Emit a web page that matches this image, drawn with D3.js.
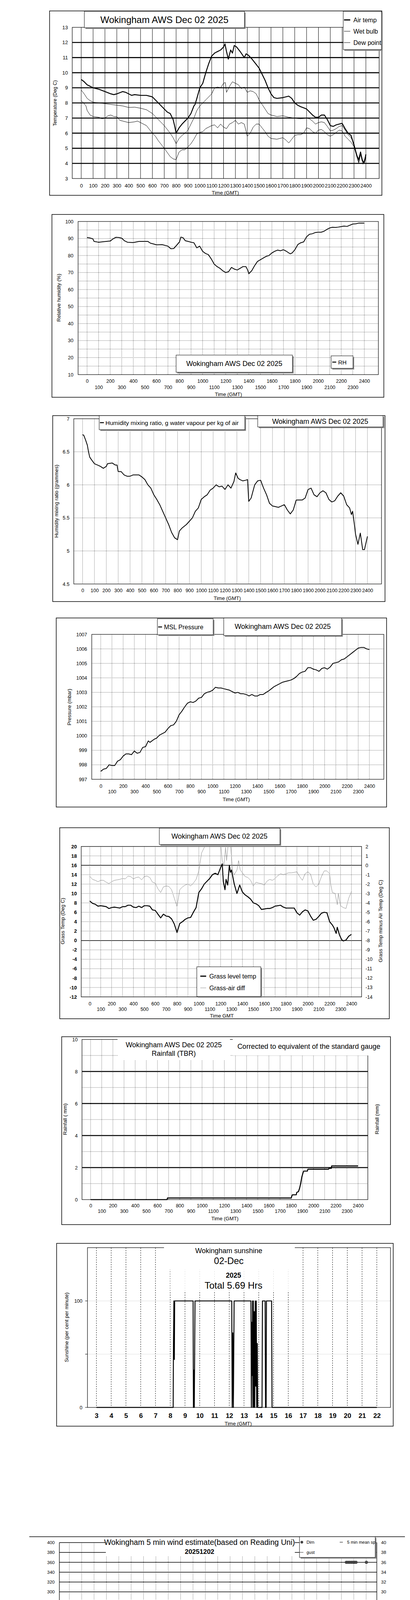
<!DOCTYPE html>
<html>
<head>
<meta charset="utf-8">
<title>Wokingham AWS Dec 02 2025</title>
<script src="https://cdn.jsdelivr.net/npm/d3@7"></script>
<style>
  body { margin: 0; background: #fff; }
  svg { display: block; }
  svg text { font-family: "Liberation Sans", Arial, sans-serif; fill: #000; }
</style>
</head>
<body>
<svg id="page" width="1050" height="5085"></svg>
<script>
// ---------- tick labels ----------
var timeTicks = [0,100,200,300,400,500,600,700,800,900,1000,1100,1200,1300,1400,1500,1600,1700,1800,1900,2000,2100,2200,2300,2400];
var evenTicks = [0,200,400,600,800,1000,1200,1400,1600,1800,2000,2200,2400];
var oddTicks = [100,300,500,700,900,1100,1300,1500,1700,1900,2100,2300];
var tempTicks = [3,4,5,6,7,8,9,10,11,12,13];
var rhTicks = [10,20,30,40,50,60,70,80,90,100];
var mixTicks = [4.5,5,5.5,6,6.5,7];
var presTicks = [997,998,999,1000,1001,1002,1003,1004,1005,1006,1007];
var grassTicks = [-12,-10,-8,-6,-4,-2,0,2,4,6,8,10,12,14,16,18,20];
var diffTicks = [-14,-13,-12,-11,-10,-9,-8,-7,-6,-5,-4,-3,-2,-1,0,1,2];
var rainTicks = [0,2,4,6,8,10];
var sunHours = [3,4,5,6,7,8,9,10,11,12,13,14,15,16,17,18,19,20,21,22];
var degTicks = [0,20,40,60,80,100,120,140,160,180,200,220,240,260,280,300,320,340,360,380,400];
var knotTicks = [0,2,4,6,8,10,12,14,16,18,20,22,24,26,28,30,32,34,36,38,40];

// ---------- series: [time GMT (hhmm scale), value] ----------
var airTemp = [[0,9.55],[25,9.4],[50,9.2],[75,9.1],[100,9.0],[150,8.9],[200,8.75],[250,8.6],[275,8.55],[300,8.6],[350,8.75],[375,8.7],[400,8.6],[425,8.5],[450,8.55],[500,8.5],[550,8.5],[600,8.4],[625,8.2],[650,8.0],[700,7.6],[725,7.4],[750,7.3],[775,6.9],[790,6.4],[800,6.0],[825,6.35],[850,6.6],[875,6.8],[900,7.0],[925,7.3],[950,7.8],[960,7.9],[975,8.3],[1000,9.0],[1025,9.3],[1050,10.0],[1075,10.6],[1100,11.1],[1125,11.3],[1150,11.4],[1175,11.5],[1200,11.7],[1212,11.9],[1225,11.4],[1240,10.9],[1260,11.5],[1275,11.3],[1290,11.8],[1310,11.7],[1340,11.4],[1375,11.0],[1390,11.25],[1410,11.15],[1440,10.9],[1475,10.55],[1500,10.3],[1525,9.9],[1550,9.5],[1575,9.0],[1600,8.6],[1625,8.35],[1650,8.3],[1700,8.35],[1750,8.45],[1775,8.3],[1800,8.0],[1825,7.85],[1850,7.75],[1900,7.6],[1925,7.4],[1950,7.2],[1975,7.05],[2000,7.05],[2025,7.2],[2050,7.2],[2075,6.9],[2100,6.5],[2125,6.45],[2150,6.55],[2175,6.6],[2200,6.65],[2225,6.3],[2250,6.0],[2275,5.85],[2300,5.2],[2325,4.5],[2340,4.25],[2355,4.75],[2370,4.2],[2385,4.05],[2393,4.3],[2400,4.6]];
var wetBulb = [[0,8.85],[25,8.6],[50,8.3],[75,8.15],[100,8.05],[150,8.0],[200,7.95],[250,7.9],[300,7.85],[350,7.8],[400,7.7],[450,7.72],[500,7.65],[550,7.55],[600,7.3],[650,6.9],[700,6.5],[750,6.0],[775,5.7],[800,5.3],[825,5.65],[850,5.85],[875,6.0],[900,6.2],[925,6.6],[950,7.0],[975,7.5],[1000,7.8],[1050,8.2],[1100,8.6],[1125,9.0],[1150,9.05],[1175,9.0],[1200,9.3],[1215,9.35],[1225,8.7],[1250,9.1],[1275,9.4],[1300,9.3],[1325,9.2],[1350,8.95],[1375,9.05],[1400,8.7],[1425,8.8],[1450,8.75],[1475,8.6],[1500,8.2],[1525,7.9],[1550,7.6],[1575,7.3],[1600,7.2],[1650,7.1],[1700,7.15],[1750,7.05],[1800,7.0],[1850,6.95],[1900,7.0],[1925,6.95],[1950,6.8],[1975,6.6],[2000,6.7],[2025,6.75],[2050,6.7],[2075,6.45],[2100,6.15],[2125,6.2],[2150,6.3],[2175,6.45],[2200,6.5],[2225,6.2],[2250,5.9],[2275,5.7],[2300,5.3],[2325,4.5],[2340,4.1],[2355,4.7],[2380,4.0],[2400,4.6]];
var dewPoint = [[0,8.15],[20,8.0],[40,7.8],[50,7.5],[75,7.2],[100,7.1],[150,7.05],[175,6.95],[200,7.0],[225,7.15],[250,7.2],[275,7.1],[300,7.1],[325,6.85],[350,6.8],[400,6.7],[450,6.75],[475,6.8],[500,6.7],[550,6.5],[600,6.0],[625,5.8],[650,5.5],[700,5.0],[750,4.45],[775,4.3],[800,4.25],[825,4.75],[850,4.9],[875,4.9],[900,5.1],[925,5.3],[950,5.6],[975,5.95],[1000,6.05],[1025,6.1],[1050,6.3],[1075,6.4],[1100,6.5],[1125,6.55],[1150,6.35],[1175,6.6],[1200,6.4],[1225,6.3],[1250,6.6],[1275,6.7],[1300,6.85],[1325,6.6],[1350,6.7],[1375,6.6],[1400,5.8],[1425,6.0],[1450,6.4],[1475,6.6],[1500,6.6],[1525,6.35],[1550,6.1],[1575,5.8],[1600,5.65],[1650,5.6],[1700,5.7],[1725,5.55],[1750,5.35],[1775,5.6],[1800,5.85],[1825,5.9],[1850,5.9],[1875,6.0],[1900,6.35],[1925,6.3],[1950,6.1],[1975,6.0],[2000,6.2],[2025,6.25],[2050,6.1],[2075,5.9],[2100,5.8],[2125,5.9],[2150,6.05],[2175,6.2],[2200,6.15],[2225,5.8],[2250,5.6],[2275,5.4],[2300,5.1],[2325,4.4],[2340,4.0],[2355,4.6],[2375,3.95],[2390,4.1],[2400,4.4]];
var relHum = [[0,90.6],[25,90.3],[50,89.8],[60,88.3],[100,87.8],[150,88.2],[200,88.5],[225,89.8],[250,90.7],[275,90.6],[300,90.2],[325,88.6],[350,87.8],[400,87.6],[450,88.3],[500,88.3],[525,88.3],[550,87.2],[575,86.8],[600,86.3],[650,86.4],[700,85.5],[725,84.0],[750,84.1],[775,86.0],[800,88.0],[812,90.8],[830,90.5],[850,88.7],[875,88.3],[900,87.8],[925,87.5],[950,84.5],[975,85.5],[1000,82.5],[1025,81.2],[1050,80.5],[1075,78.0],[1100,75.0],[1125,73.5],[1150,72.5],[1175,71.0],[1200,70.0],[1225,70.5],[1250,73.0],[1275,72.0],[1300,71.5],[1325,72.5],[1350,73.5],[1375,73.5],[1390,71.5],[1400,69.3],[1425,71.0],[1450,74.0],[1475,76.5],[1500,77.5],[1525,78.5],[1550,79.5],[1575,80.0],[1600,81.5],[1625,82.5],[1650,83.2],[1675,82.8],[1700,83.4],[1725,82.5],[1758,81.0],[1775,81.5],[1800,83.5],[1825,86.5],[1850,87.5],[1875,88.0],[1900,91.0],[1925,92.5],[1950,92.8],[1975,93.5],[2000,93.7],[2025,93.7],[2050,94.2],[2075,95.3],[2100,96.2],[2125,96.6],[2150,96.5],[2175,96.7],[2200,97.0],[2225,97.3],[2250,97.1],[2275,97.8],[2300,98.5],[2325,98.6],[2350,99.0],[2400,99.0]];
var mixRatio = [[0,6.76],[10,6.75],[25,6.68],[40,6.6],[50,6.5],[60,6.42],[75,6.38],[100,6.32],[125,6.3],[150,6.28],[175,6.25],[200,6.28],[210,6.32],[250,6.33],[275,6.3],[290,6.3],[300,6.2],[325,6.2],[350,6.15],[375,6.13],[400,6.13],[425,6.15],[450,6.15],[475,6.15],[500,6.12],[525,6.08],[550,6.0],[575,5.95],[600,5.85],[625,5.78],[650,5.7],[675,5.6],[700,5.5],[725,5.4],[750,5.28],[775,5.2],[800,5.17],[815,5.3],[840,5.35],[875,5.4],[900,5.45],[925,5.5],[950,5.6],[975,5.65],[1000,5.78],[1025,5.82],[1050,5.85],[1075,5.92],[1100,5.95],[1125,6.0],[1150,5.97],[1175,5.98],[1200,5.93],[1225,6.0],[1250,5.95],[1275,6.05],[1290,6.18],[1310,6.1],[1325,6.08],[1350,6.06],[1375,6.07],[1390,6.08],[1400,5.75],[1420,5.8],[1450,6.0],[1475,6.06],[1500,6.07],[1525,5.95],[1550,5.85],[1575,5.72],[1600,5.68],[1650,5.66],[1675,5.68],[1700,5.7],[1725,5.62],[1750,5.56],[1775,5.62],[1800,5.77],[1825,5.77],[1850,5.77],[1875,5.8],[1900,5.93],[1925,5.95],[1950,5.85],[1975,5.82],[2000,5.88],[2025,5.91],[2050,5.88],[2075,5.78],[2100,5.74],[2125,5.76],[2150,5.83],[2175,5.88],[2200,5.83],[2225,5.7],[2250,5.65],[2265,5.55],[2275,5.6],[2290,5.4],[2300,5.25],[2320,5.1],[2340,5.27],[2360,5.02],[2375,5.02],[2385,5.1],[2400,5.22]];
var mslPressure = [[0,997.55],[25,997.7],[50,997.75],[75,998.0],[100,997.95],[125,997.95],[150,998.25],[175,998.35],[200,998.6],[225,998.75],[250,998.75],[275,998.7],[300,998.95],[325,998.8],[350,998.85],[375,999.2],[400,999.25],[425,999.65],[440,999.55],[475,999.75],[500,999.85],[525,1000.05],[550,1000.15],[575,1000.25],[600,1000.5],[625,1000.7],[650,1000.75],[675,1001.0],[700,1001.45],[725,1001.7],[750,1002.0],[775,1002.25],[800,1002.35],[825,1002.3],[850,1002.4],[875,1002.6],[900,1002.65],[925,1002.9],[950,1003.0],[975,1003.05],[1000,1003.15],[1025,1003.35],[1050,1003.3],[1075,1003.3],[1100,1003.25],[1125,1003.2],[1150,1003.15],[1175,1003.05],[1200,1002.95],[1225,1003.0],[1250,1002.9],[1275,1002.9],[1300,1002.85],[1325,1002.75],[1350,1002.85],[1375,1002.75],[1400,1002.75],[1425,1002.85],[1450,1002.85],[1475,1002.98],[1500,1003.1],[1525,1003.25],[1550,1003.4],[1575,1003.5],[1600,1003.6],[1625,1003.7],[1650,1003.75],[1675,1003.8],[1700,1003.85],[1725,1003.95],[1750,1004.1],[1775,1004.3],[1800,1004.4],[1825,1004.45],[1850,1004.7],[1875,1004.7],[1900,1004.6],[1925,1004.55],[1950,1004.45],[1975,1004.65],[2000,1004.7],[2025,1004.6],[2050,1004.75],[2075,1005.0],[2100,1005.05],[2125,1005.1],[2150,1005.25],[2175,1005.3],[2200,1005.45],[2225,1005.6],[2250,1005.75],[2275,1005.9],[2300,1006.05],[2325,1006.1],[2350,1006.1],[2375,1006.0],[2400,1005.95]];
var grassTemp = [[0,8.4],[25,7.9],[50,7.7],[75,7.3],[100,7.4],[125,7.3],[150,7.2],[175,6.8],[200,7.0],[225,7.1],[250,7.0],[275,6.9],[300,7.2],[325,7.2],[350,7.5],[375,7.5],[400,7.1],[425,7.0],[450,7.3],[475,7.0],[500,7.4],[525,7.4],[550,7.3],[575,6.5],[600,6.4],[625,5.6],[650,4.8],[675,5.6],[700,5.2],[725,5.1],[750,4.6],[775,3.5],[800,1.7],[825,3.6],[850,4.0],[875,4.5],[900,4.8],[925,4.9],[950,6.0],[975,7.0],[1000,10.2],[1025,11.0],[1050,12.0],[1075,12.6],[1100,13.2],[1125,14.0],[1150,14.3],[1175,14.0],[1200,15.5],[1215,16.3],[1225,12.5],[1240,10.8],[1250,13.0],[1265,11.8],[1280,16.0],[1290,14.5],[1300,15.0],[1325,12.0],[1350,10.0],[1375,11.8],[1400,10.3],[1425,9.7],[1450,9.3],[1475,8.8],[1500,8.0],[1525,7.8],[1550,7.4],[1575,6.6],[1600,6.7],[1625,6.8],[1650,6.8],[1675,7.0],[1700,7.3],[1725,7.4],[1750,7.5],[1775,7.1],[1800,6.9],[1850,6.9],[1875,6.9],[1900,5.9],[1925,5.4],[1950,6.1],[1975,6.5],[2000,6.3],[2025,5.2],[2050,4.3],[2075,4.5],[2100,5.1],[2125,5.8],[2150,6.0],[2175,5.9],[2200,4.0],[2225,3.3],[2240,2.7],[2260,1.5],[2270,2.8],[2290,1.2],[2310,0.2],[2325,-0.1],[2350,0.1],[2375,0.9],[2400,1.3]];
var grassAirDiff = [[0,-1.18],[25,-1.5],[50,-1.6],[75,-1.75],[100,-1.6],[125,-1.6],[150,-1.8],[175,-1.95],[200,-1.75],[225,-1.6],[250,-1.55],[275,-1.5],[300,-1.4],[325,-1.45],[350,-1.15],[375,-1.2],[400,-1.45],[425,-1.3],[450,-1.25],[475,-1.55],[500,-1.2],[525,-1.15],[550,-1.3],[575,-1.8],[600,-1.9],[625,-2.5],[650,-2.9],[675,-2.3],[700,-2.2],[725,-2.25],[750,-2.6],[775,-3.5],[800,-4.4],[825,-2.6],[850,-2.3],[875,-2.1],[900,-2.0],[925,-2.2],[950,-1.9],[975,-1.5],[1000,-0.6],[1025,1.3],[1050,1.9],[1075,2.2],[1100,2.3],[1150,2.3],[1175,2.05],[1200,2.3],[1215,0.5],[1230,-0.1],[1245,1.9],[1255,0.5],[1270,2.3],[1290,2.3],[1310,-0.6],[1325,-1.0],[1350,-0.5],[1365,0.5],[1380,-0.5],[1400,-0.8],[1425,-1.2],[1450,-1.3],[1475,-1.6],[1500,-2.2],[1525,-1.8],[1550,-1.9],[1575,-1.95],[1600,-2.1],[1625,-1.7],[1650,-1.5],[1675,-1.6],[1700,-1.4],[1725,-1.1],[1750,-0.9],[1775,-1.0],[1800,-0.9],[1825,-0.8],[1850,-0.8],[1875,-0.75],[1900,-0.7],[1925,-1.2],[1950,-1.6],[1975,-0.9],[2000,-0.7],[2025,-0.95],[2050,-2.0],[2075,-2.3],[2100,-2.0],[2125,-1.2],[2150,-0.6],[2175,-0.6],[2200,-0.9],[2210,-2.0],[2225,-2.9],[2250,-3.0],[2270,-4.2],[2280,-3.0],[2300,-4.3],[2325,-4.5],[2350,-4.6],[2375,-3.5],[2400,-2.8]];
var rainTotal = [[0,0],[686,0],[690,0.1],[1800,0.1],[1810,0.3],[1845,0.3],[1850,0.45],[1865,0.5],[1875,0.7],[1885,1.0],[1895,1.4],[1905,1.65],[1912,1.78],[1945,1.78],[1950,1.9],[2135,1.9],[2140,1.95],[2160,1.95],[2163,2.1],[2400,2.1]];
// sunshine: [hour GMT, per cent]
var sunshine = [[3,0],[8.2,0],[8.22,60],[8.25,100],[8.28,45],[8.3,100],[9.55,100],[9.57,0],[9.6,35],[9.63,0],[9.68,100],[12.17,100],[12.2,0],[12.24,70],[12.28,0],[12.33,100],[13.47,100],[13.5,0],[13.52,80],[13.55,30],[13.58,100],[13.6,0],[13.63,100],[13.67,0],[13.7,90],[13.73,0],[13.76,100],[13.8,20],[13.83,100],[13.86,0],[13.9,60],[13.93,0],[14.22,0],[14.25,100],[14.43,100],[14.46,0],[14.5,0],[14.52,100],[14.87,100],[14.9,0],[22,0]];
var windDir = [[6,204],[21,209],[39,212],[53,216],[71,212],[81,209],[103,213],[120,215],[128,218],[141,213],[156,226],[171,223],[184,225],[199,213],[210,210],[220,205],[231,197],[242,194],[252,202],[263,210],[274,213],[289,212],[302,202],[312,197],[323,194],[338,199],[351,204],[359,200],[372,195],[387,192],[398,189],[409,192],[424,194],[434,186],[445,180],[455,189],[468,199],[481,218],[494,212],[509,207],[524,202],[537,199],[548,194],[562,199],[573,194],[588,202],[601,200],[616,204],[629,204],[644,197],[654,192],[665,189],[680,189],[695,189],[708,182],[723,177],[738,169],[748,150],[759,145],[770,150],[781,160],[791,150],[804,145],[815,148],[826,161],[836,171],[845,183],[856,189],[868,184],[883,189],[898,191],[911,192],[928,191],[943,197],[958,200],[971,197],[984,201],[997,204],[1010,197],[1022,187],[1037,185],[1050,174],[1065,177],[1080,178],[1093,180],[1106,179],[1119,181],[1134,179],[1146,181],[1157,179],[1172,179],[1194,184],[1206,181],[1221,181],[1236,181],[1253,183],[1264,172],[1273,166],[1283,173],[1300,169],[1311,179],[1326,179],[1339,183],[1350,190],[1360,179],[1371,171],[1380,165],[1388,153],[1397,160],[1403,165],[1412,187],[1422,198],[1431,193],[1440,183],[1450,181],[1461,177],[1472,165],[1482,168],[1493,174],[1506,179],[1519,174],[1532,172],[1547,176],[1559,176],[1568,179],[1579,168],[1589,158],[1600,165],[1611,163],[1621,156],[1632,149],[1643,154],[1653,151],[1664,147],[1675,153],[1686,145],[1696,150],[1707,155],[1718,153],[1729,160],[1739,163],[1750,148],[1763,160],[1771,165],[1782,174],[1793,171],[1799,153],[1810,150],[1820,151],[1831,161],[1846,171],[1857,174],[1868,168],[1879,160],[1889,166],[1899,173],[1910,173],[1921,169],[1932,161],[1942,167],[1953,173],[1966,168],[1974,147],[1985,153],[1996,156],[2006,142],[2013,148],[2024,161],[2034,166],[2045,160],[2053,165],[2066,168],[2077,171],[2086,181],[2096,186],[2107,177],[2117,167],[2128,171],[2139,152],[2150,137],[2158,148],[2169,154],[2178,138],[2188,133],[2195,120],[2199,125],[2212,140],[2220,148],[2229,134],[2240,360],[2253,360],[2266,360],[2280,360],[2293,360],[2306,360],[2318,360],[2327,148],[2340,148],[2353,137],[2361,125],[2372,125],[2383,134],[2389,125],[2396,118],[2402,360]];
var windGust = [[0,11.2],[17,11.5],[32,12.4],[49,9.7],[60,11.7],[71,10.8],[81,9.7],[92,10.4],[103,9.1],[113,10.7],[124,8.3],[135,7.8],[145,7.6],[156,8.6],[167,6.4],[178,8.0],[188,9.9],[199,10.7],[210,10.9],[220,7.5],[231,7.0],[242,5.9],[252,6.7],[263,7.0],[274,6.6],[284,7.2],[295,7.1],[306,7.5],[317,6.7],[327,5.6],[338,7.0],[349,6.2],[359,7.4],[370,8.4],[381,6.2],[391,5.4],[402,6.7],[413,5.8],[424,5.4],[434,4.7],[445,5.9],[456,5.4],[466,6.2],[477,10.4],[488,8.8],[498,9.5],[509,7.0],[520,7.9],[530,8.0],[541,8.2],[552,8.3],[563,7.8],[573,7.1],[584,7.4],[595,8.8],[605,7.5],[616,7.6],[627,7.0],[637,6.8],[648,6.2],[659,5.6],[670,4.8],[680,6.7],[691,7.0],[702,6.4],[712,6.6],[723,4.3],[734,4.8],[744,4.1],[755,3.5],[766,3.0],[777,3.4],[787,3.4],[798,3.4],[809,4.6],[820,5.4],[830,4.3],[841,3.0],[852,3.1],[862,3.5],[873,4.1],[884,5.1],[894,6.4],[905,7.4],[916,7.4],[927,7.2],[937,7.0],[948,7.1],[959,6.7],[969,7.2],[980,7.1],[991,8.8],[1001,5.9],[1012,6.2],[1022,6.6],[1033,7.2],[1044,8.0],[1055,8.8],[1065,8.0],[1076,9.4],[1087,8.8],[1097,7.8],[1108,8.3],[1119,8.8],[1130,5.9],[1140,8.3],[1151,8.8],[1162,7.8],[1172,5.6],[1183,7.0],[1194,8.0],[1204,7.6],[1215,7.5],[1226,6.6],[1237,7.1],[1247,7.2],[1258,6.7],[1268,6.4],[1279,5.9],[1290,4.3],[1301,5.4],[1311,7.0],[1322,8.8],[1333,11.4],[1343,9.1],[1354,7.0],[1365,6.7],[1375,5.4],[1386,5.9],[1397,5.6],[1408,7.0],[1418,8.3],[1429,8.0],[1440,10.1],[1448,12.4],[1455,8.5],[1461,7.8],[1472,6.2],[1482,7.5],[1493,7.6],[1504,9.0],[1515,8.3],[1525,9.1],[1536,9.1],[1547,8.3],[1557,9.0],[1568,8.2],[1579,8.4],[1589,8.3],[1600,7.8],[1611,9.1],[1621,7.0],[1632,8.6],[1643,6.2],[1653,5.4],[1664,9.7],[1675,5.4],[1686,6.6],[1696,8.0],[1707,6.7],[1717,8.8],[1728,9.7],[1739,7.8],[1750,8.3],[1760,7.0],[1771,8.0],[1782,7.5],[1792,8.8],[1803,7.0],[1814,7.0],[1825,8.6],[1835,7.8],[1846,8.8],[1857,7.5],[1867,8.0],[1878,7.0],[1889,7.0],[1899,6.7],[1910,5.6],[1921,4.3],[1931,4.5],[1942,5.4],[1953,4.3],[1964,4.2],[1974,4.2],[1985,3.5],[1996,3.1],[2006,4.3],[2017,5.1],[2028,5.6],[2038,6.4],[2049,6.2],[2060,6.7],[2070,6.2],[2081,6.7],[2092,5.9],[2102,6.4],[2113,5.1],[2124,3.8],[2135,2.7],[2145,2.1],[2156,3.1],[2167,3.0],[2178,2.7],[2188,1.7],[2199,4.8],[2210,3.3],[2220,1.7],[2231,0.9],[2242,1.3],[2252,0.6],[2263,0.1],[2274,1.3],[2285,0.1],[2295,0.2],[2306,0.5],[2316,0.1],[2327,2.3],[2338,2.2],[2349,3.8],[2359,4.3],[2370,5.2],[2381,4.1],[2391,3.0],[2400,2.5]];
var windMean = [[0,6.2],[17,7.2],[32,8.2],[49,7.4],[60,6.1],[71,6.6],[81,7.0],[92,6.7],[103,6.3],[113,5.6],[124,5.6],[135,5.2],[145,4.8],[156,4.7],[167,4.7],[178,4.3],[188,5.6],[199,5.9],[210,6.2],[220,5.2],[231,4.6],[242,4.3],[252,4.3],[263,4.1],[274,4.1],[284,4.7],[295,5.1],[306,4.8],[317,4.3],[327,3.5],[338,3.6],[349,4.3],[359,5.2],[370,4.7],[381,4.1],[391,3.8],[402,3.9],[413,4.2],[424,4.3],[434,4.6],[445,4.3],[456,4.1],[466,3.8],[477,5.1],[488,5.8],[498,5.9],[509,5.8],[520,5.4],[530,5.1],[541,5.6],[552,4.7],[563,5.9],[573,5.2],[584,4.7],[595,5.1],[605,4.8],[616,5.1],[627,4.7],[637,5.0],[648,4.8],[659,4.1],[670,3.6],[680,4.3],[691,4.8],[702,4.7],[712,4.3],[723,3.8],[734,1.8],[744,2.1],[755,1.7],[766,1.4],[777,1.1],[787,1.4],[798,1.5],[809,1.7],[820,1.4],[830,2.5],[841,2.5],[852,2.1],[862,2.5],[873,3.3],[884,4.1],[894,4.6],[905,5.0],[916,5.6],[927,5.6],[937,4.6],[948,4.1],[959,4.6],[969,4.7],[980,5.1],[991,5.2],[1001,4.6],[1012,4.3],[1022,4.6],[1033,5.0],[1044,5.1],[1055,5.2],[1065,5.3],[1076,5.1],[1087,4.8],[1097,4.6],[1108,4.6],[1119,4.6],[1130,4.3],[1140,4.1],[1151,4.6],[1162,4.5],[1172,4.3],[1183,3.4],[1194,4.3],[1204,4.6],[1215,4.3],[1226,3.5],[1237,3.8],[1247,4.3],[1258,4.1],[1268,3.5],[1279,3.3],[1290,3.1],[1301,1.9],[1311,3.5],[1322,4.6],[1333,5.9],[1343,5.1],[1354,4.3],[1365,3.8],[1375,3.5],[1386,2.7],[1397,2.7],[1408,3.5],[1418,5.1],[1429,5.9],[1440,5.9],[1450,5.8],[1461,4.3],[1472,2.7],[1482,3.9],[1493,4.1],[1504,3.8],[1515,4.8],[1525,4.3],[1536,4.5],[1547,4.3],[1557,4.3],[1568,4.6],[1579,4.3],[1589,4.6],[1600,3.8],[1611,3.8],[1621,3.1],[1632,3.5],[1643,3.6],[1653,2.7],[1664,3.5],[1675,3.1],[1686,3.5],[1696,3.1],[1707,3.8],[1717,4.1],[1728,3.8],[1739,3.5],[1750,3.0],[1760,3.6],[1771,3.3],[1782,3.8],[1792,3.5],[1803,4.1],[1814,3.1],[1825,2.6],[1835,3.5],[1846,4.6],[1857,4.5],[1867,4.1],[1878,3.8],[1889,3.3],[1899,3.6],[1910,3.5],[1921,3.3],[1931,2.2],[1942,2.3],[1953,2.7],[1964,2.3],[1974,1.8],[1985,1.1],[1996,0.7],[2006,1.1],[2017,1.7],[2028,3.3],[2038,2.7],[2049,2.6],[2060,3.1],[2070,3.4],[2081,3.5],[2092,3.8],[2102,3.5],[2113,2.2],[2124,1.4],[2135,1.1],[2145,0.7],[2156,0.6],[2167,1.0],[2178,0.9],[2188,0.5],[2199,1.3],[2210,1.1],[2220,0.6],[2231,0.1],[2242,0],[2263,0],[2285,0],[2316,0],[2327,0.4],[2338,0.5],[2349,1.1],[2359,2.1],[2370,2.3],[2381,1.8],[2391,1.7],[2400,0.2]];

var TITLE = 'Wokingham AWS Dec 02 2025';
var FONT = '"Liberation Sans", Arial, sans-serif';
var svg = d3.select('#page');

// ---------- helpers ----------
function frame(x, y, w, h) {
  svg.append('rect').attr('x', x).attr('y', y).attr('width', w).attr('height', h)
    .attr('fill', 'none').attr('stroke', '#000').attr('stroke-width', 1.5);
}

function plotBox(x0, y0, x1, y1) {
  svg.append('rect').attr('x', x0).attr('y', y0).attr('width', x1 - x0).attr('height', y1 - y0)
    .attr('fill', 'none').attr('stroke', '#000').attr('stroke-width', 1.2);
}

function shadowBox(x, y, w, h) {
  svg.append('rect').attr('x', x + 3).attr('y', y + 3).attr('width', w).attr('height', h).attr('fill', '#8a8a8a');
  svg.append('rect').attr('x', x).attr('y', y).attr('width', w).attr('height', h)
    .attr('fill', '#fff').attr('stroke', '#000').attr('stroke-width', 1);
}

function whiteBox(x, y, w, h, op) {
  svg.append('rect').attr('x', x).attr('y', y).attr('width', w).attr('height', h)
    .attr('fill', '#fff').attr('opacity', op || 1);
}

function label(x, y, s, size, opts) {
  opts = opts || {};
  var t = svg.append('text').attr('x', x).attr('y', y).text(s)
    .attr('font-size', size)
    .attr('text-anchor', opts.anchor || 'middle')
    .attr('dominant-baseline', 'central');
  if (opts.bold) t.attr('font-weight', 'bold');
  if (opts.rotate) t.attr('transform', 'rotate(' + opts.rotate + ',' + x + ',' + y + ')');
  if (opts.clip) t.attr('clip-path', 'url(#' + opts.clip + ')');
  return t;
}

function vgrid(xs, vals, y0, y1, dash, width, color) {
  svg.append('g').selectAll('line').data(vals).join('line')
    .attr('x1', d => xs(d)).attr('x2', d => xs(d)).attr('y1', y0).attr('y2', y1)
    .attr('stroke', color || '#000').attr('stroke-width', width || 1)
    .attr('stroke-dasharray', dash || null);
}

function hgrid(ys, vals, x0, x1, dash, width, color) {
  svg.append('g').selectAll('line').data(vals).join('line')
    .attr('y1', d => ys(d)).attr('y2', d => ys(d)).attr('x1', x0).attr('x2', x1)
    .attr('stroke', color || '#000').attr('stroke-width', width || 1)
    .attr('stroke-dasharray', dash || null);
}

function leftTicks(ys, vals, x, size, bold) {
  var g = svg.append('g').attr('transform', 'translate(' + x + ',0)')
    .call(d3.axisLeft(ys).tickValues(vals).tickSize(0).tickPadding(0).tickFormat(d => d));
  g.select('.domain').remove();
  g.attr('font-family', FONT).attr('font-size', size).attr('font-weight', bold ? 'bold' : null);
  return g;
}

function rightTicks(ys, vals, x, size) {
  var g = svg.append('g').attr('transform', 'translate(' + x + ',0)')
    .call(d3.axisRight(ys).tickValues(vals).tickSize(0).tickPadding(0).tickFormat(d => d));
  g.select('.domain').remove();
  g.attr('font-family', FONT).attr('font-size', size);
  return g;
}

function bottomTicks(xs, vals, cy, size, bold) {
  var g = svg.append('g').attr('transform', 'translate(0,' + (cy - 0.36 * size) + ')')
    .call(d3.axisBottom(xs).tickValues(vals).tickSize(0).tickPadding(0).tickFormat(d => d));
  g.select('.domain').remove();
  g.attr('font-family', FONT).attr('font-size', size).attr('font-weight', bold ? 'bold' : null);
  return g;
}

function series(xs, ys, data, width, color, clip) {
  var p = svg.append('path').datum(data)
    .attr('d', d3.line().x(d => xs(d[0])).y(d => ys(d[1])))
    .attr('fill', 'none').attr('stroke', color || '#000').attr('stroke-width', width)
    .attr('stroke-linejoin', 'round');
  if (clip) p.attr('clip-path', 'url(#' + clip + ')');
  return p;
}

function legendLine(x0, x1, y, width, color) {
  svg.append('line').attr('x1', x0).attr('x2', x1).attr('y1', y).attr('y2', y)
    .attr('stroke', color || '#000').attr('stroke-width', width);
}

function clipRect(id, x, y, w, h) {
  svg.append('clipPath').attr('id', id).append('rect')
    .attr('x', x).attr('y', y).attr('width', w).attr('height', h);
}

var DOT = '1,2';

// ---------- 1. temperature ----------
(function() {
  var x = d3.scaleLinear().domain([0, 2400]).range([208, 937]);
  var y = d3.scaleLinear().domain([3, 13]).range([457, 70]);
  frame(127, 28, 851, 472);
  vgrid(x, timeTicks, 70, 457, null, 1);
  hgrid(y, [4,5,6,7,8,9,10,11,12], 185, 971, null, 2.6);
  plotBox(185, 70, 971, 457);
  series(x, y, dewPoint, 1);
  series(x, y, wetBulb, 1);
  series(x, y, airTemp, 2.4);
  leftTicks(y, tempTicks, 174, 13);
  bottomTicks(x, timeTicks, 475, 13);
  label(577, 493, 'Time (GMT)', 13);
  label(141, 264, 'Temperature (Deg C)', 12.5, {rotate: -90});
  shadowBox(216, 29, 410, 42);
  label(421, 50, TITLE, 24);
  clipRect('tempLegClip', 879, 29, 98, 98);
  shadowBox(879, 29, 98, 98);
  legendLine(881, 897, 51, 3);
  legendLine(881, 897, 80, 1);
  legendLine(881, 897, 109, 1);
  label(905, 51, 'Air temp', 16, {anchor: 'start', clip: 'tempLegClip'});
  label(905, 80, 'Wet bulb', 16, {anchor: 'start', clip: 'tempLegClip'});
  label(905, 109, 'Dew point', 16, {anchor: 'start', clip: 'tempLegClip'});
})();

// ---------- 2. relative humidity ----------
(function() {
  var x = d3.scaleLinear().domain([0, 2400]).range([223, 933]);
  var y = d3.scaleLinear().domain([10, 100]).range([959, 567]);
  frame(133, 549, 850, 468);
  vgrid(x, timeTicks, 567, 959, DOT);
  hgrid(y, [15,20,25,30,35,40,45,50,55,60,65,70,75,80,85,90,95], 200, 969, DOT);
  plotBox(200, 567, 969, 959);
  series(x, y, relHum, 2);
  leftTicks(y, rhTicks, 188, 12.5);
  bottomTicks(x, evenTicks, 976, 12.5);
  bottomTicks(x, oddTicks, 992, 12.5);
  label(585, 1009, 'Time (GMT)', 13);
  label(150, 762, 'Relative humidity (%)', 13, {rotate: -90});
  shadowBox(451, 909, 298, 44);
  label(600, 931, TITLE, 18);
  shadowBox(848, 911, 56, 32);
  legendLine(851, 861, 927, 2.5);
  label(866, 927, 'RH', 15, {anchor: 'start'});
})();

// ---------- 3. humidity mixing ratio ----------
(function() {
  var x = d3.scaleLinear().domain([0, 2400]).range([211.5, 941]);
  var y = d3.scaleLinear().domain([4.5, 7]).range([1495, 1072]);
  frame(135, 1064, 851, 476);
  vgrid(x, timeTicks, 1072, 1495, DOT);
  hgrid(y, [5, 5.5, 6, 6.5], 189, 977, DOT);
  plotBox(189, 1072, 977, 1495);
  series(x, y, mixRatio, 2);
  leftTicks(y, mixTicks, 178, 12.5);
  bottomTicks(x, timeTicks, 1512, 12.5);
  label(582, 1531, 'Time (GMT)', 13);
  label(144, 1283, 'Humidity mixing ratio (grammes)', 13, {rotate: -90});
  shadowBox(254, 1064, 373, 36);
  legendLine(256, 266, 1082, 2.5);
  label(270, 1082, 'Humidity mixing ratio, g water vapour per kg of air', 15.5, {anchor: 'start'});
  shadowBox(660, 1064, 321, 29);
  label(820, 1079, TITLE, 18);
})();

// ---------- 4. MSL pressure ----------
(function() {
  var x = d3.scaleLinear().domain([0, 2400]).range([258, 946]);
  var y = d3.scaleLinear().domain([997, 1007]).range([1995, 1624]);
  frame(144, 1582, 846, 484);
  vgrid(x, timeTicks, 1624, 1995, DOT);
  hgrid(y, [998,999,1000,1001,1002,1003,1004,1005,1006], 235, 983, DOT);
  plotBox(235, 1624, 983, 1995);
  series(x, y, mslPressure, 2);
  leftTicks(y, presTicks, 223, 12.5);
  bottomTicks(x, evenTicks, 2013, 12.5);
  bottomTicks(x, oddTicks, 2027, 12.5);
  label(605, 2046, 'Time (GMT)', 13);
  label(177, 1810, 'Pressure (mbar)', 13, {rotate: -90});
  shadowBox(403, 1584, 143, 41);
  legendLine(405, 415, 1605, 2.5);
  label(420, 1605, 'MSL Pressure', 16, {anchor: 'start'});
  shadowBox(573, 1582, 302, 45);
  label(724, 1604, TITLE, 18);
})();

// ---------- 5. grass temperature ----------
(function() {
  var x = d3.scaleLinear().domain([0, 2400]).range([230, 900]);
  var y = d3.scaleLinear().domain([-12, 20]).range([2552, 2167]);
  var y2 = d3.scaleLinear().domain([-14, 2]).range([2552, 2167]);
  clipRect('grassClip', 208, 2167, 718, 385);
  frame(153, 2119, 844, 489);
  vgrid(x, timeTicks, 2167, 2552, DOT);
  hgrid(y, grassTicks, 208, 926, DOT);
  hgrid(y, [0, 16], 208, 926, null, 1.5);
  plotBox(208, 2167, 926, 2552);
  series(x, y2, grassAirDiff, 1, '#8c8c8c', 'grassClip');
  series(x, y, grassTemp, 2.4);
  leftTicks(y, grassTicks, 197, 13, true);
  rightTicks(y2, diffTicks, 936, 12.5);
  bottomTicks(x, evenTicks, 2570, 12.5);
  bottomTicks(x, oddTicks, 2584, 12.5);
  label(568, 2600, 'Time GMT', 13);
  label(160, 2358, 'Grass Temp (Deg C)', 13, {rotate: -90});
  label(974, 2358, 'Grass Temp minus Air Temp (Deg C)', 13, {rotate: -90});
  shadowBox(408, 2120, 309, 42);
  label(562, 2141, TITLE, 18);
  shadowBox(504, 2475, 164, 76);
  legendLine(513, 528, 2499, 3);
  legendLine(513, 528, 2529, 1, '#8c8c8c');
  label(536, 2499, 'Grass level temp', 16, {anchor: 'start'});
  label(536, 2529, 'Grass-air diff', 16, {anchor: 'start'});
})();

// ---------- 6. rainfall ----------
(function() {
  var x = d3.scaleLinear().domain([0, 2400]).range([232, 917]);
  var y = d3.scaleLinear().domain([0, 10]).range([3071, 2661]);
  frame(158, 2654, 842, 481);
  vgrid(x, timeTicks, 2661, 3071, DOT);
  hgrid(y, [1, 3, 5, 7, 9], 210, 942, DOT);
  hgrid(y, [2, 4, 6, 8], 210, 942, null, 2.6);
  plotBox(210, 2661, 942, 3071);
  whiteBox(301, 2659, 288, 56);
  whiteBox(596, 2659, 384, 43);
  series(x, y, rainTotal, 2.6);
  leftTicks(y, rainTicks, 199, 12.5);
  bottomTicks(x, evenTicks, 3087, 12.5);
  bottomTicks(x, oddTicks, 3101, 12.5);
  label(576, 3119, 'Time (GMT)', 13);
  label(166, 2865, 'Rainfall ( mm)', 13, {rotate: -90});
  label(965, 2865, 'Rainfall (mm)', 13, {rotate: -90});
  label(445, 2675, TITLE, 18);
  label(445, 2697, 'Rainfall (TBR)', 18);
  label(791, 2679, 'Corrected to equivalent of the standard gauge', 18);
})();

// ---------- 7. sunshine ----------
(function() {
  var x = d3.scaleLinear().domain([3, 22]).range([247, 965]);
  var y = d3.scaleLinear().domain([0, 150]).range([3603, 3194]);
  frame(145, 3183, 862, 468);
  vgrid(x, sunHours, 3194, 3603, '3,3');
  hgrid(y, [50, 100], 224, 1000, DOT, 1, '#999');
  svg.append('g').selectAll('line').data([0, 50, 100]).join('line')
    .attr('x1', 218).attr('x2', 224).attr('y1', d => y(d)).attr('y2', d => y(d))
    .attr('stroke', '#000');
  plotBox(224, 3194, 1000, 3603);
  whiteBox(420, 3192, 335, 58);
  whiteBox(436, 3250, 319, 56, 0.85);
  series(x, y, sunshine, 2.4);
  leftTicks(y, [0, 100], 211, 12.5);
  bottomTicks(x, sunHours, 3624, 17, true);
  label(610, 3644, 'Time (GMT)', 13);
  label(170, 3398, 'Sunshine (per cent per minute)', 13, {rotate: -90});
  label(586, 3202, 'Wokingham sunshine', 18);
  label(586, 3228, '02-Dec', 23.5);
  label(598, 3265, '2025', 17.5, {bold: true});
  label(598, 3290, 'Total 5.69 Hrs', 24);
})();

// ---------- 8. wind ----------
(function() {
  var x = d3.scaleLinear().domain([0, 2400]).range([177.5, 937.7]);
  var y = d3.scaleLinear().domain([0, 400]).range([4454, 3949]);
  var yk = d3.scaleLinear().domain([0, 40]).range([4454, 3949]);
  legendLine(75, 1037, 3934, 1.5);
  legendLine(75, 1037, 4516, 1.5);
  vgrid(x, timeTicks, 3949, 4454, DOT);
  hgrid(y, degTicks, 152, 965, null, 1.3);
  svg.append('line').attr('x1', 152).attr('x2', 152).attr('y1', 3949).attr('y2', 4454).attr('stroke', '#000').attr('stroke-width', 1.3);
  svg.append('line').attr('x1', 965).attr('x2', 965).attr('y1', 3949).attr('y2', 4454).attr('stroke', '#000').attr('stroke-width', 1.3);
  whiteBox(271, 3936, 484, 48);
  series(x, yk, windGust, 1, '#222');
  series(x, yk, windMean, 2, '#777');
  svg.append('g').selectAll('circle').data(windDir).join('circle')
    .attr('cx', d => x(d[0])).attr('cy', d => y(d[1])).attr('r', 3.6)
    .attr('fill', '#4a4a4a').attr('stroke', '#222').attr('stroke-width', 0.8);
  leftTicks(y, degTicks, 140, 11.5);
  rightTicks(yk, knotTicks, 976, 11.5);
  bottomTicks(x, timeTicks, 4471, 10.5);
  label(559, 4493, 'Time, hours GMT', 15.5);
  label(100, 4205, 'Degrees', 16, {rotate: -90});
  label(1009, 4205, 'knots', 16, {rotate: -90});
  label(511, 3948, 'Wokingham 5 min wind estimate(based on Reading Uni)', 19.6);
  label(511, 3972, '20251202', 17, {bold: true});
  clipRect('windLegClip', 767, 3934, 194, 53);
  shadowBox(767, 3934, 194, 53);
  svg.append('circle').attr('cx', 773).attr('cy', 3948).attr('r', 3).attr('fill', '#4a4a4a').attr('stroke', '#222');
  label(785, 3948, 'Dirn', 11, {anchor: 'start'});
  legendLine(870, 878, 3948, 2, '#777');
  label(889, 3948, '5 min mean sp', 11, {anchor: 'start', clip: 'windLegClip'});
  legendLine(768, 777, 3974, 1, '#222');
  label(785, 3974, 'gust', 11, {anchor: 'start'});
})();
</script>
</body>
</html>
